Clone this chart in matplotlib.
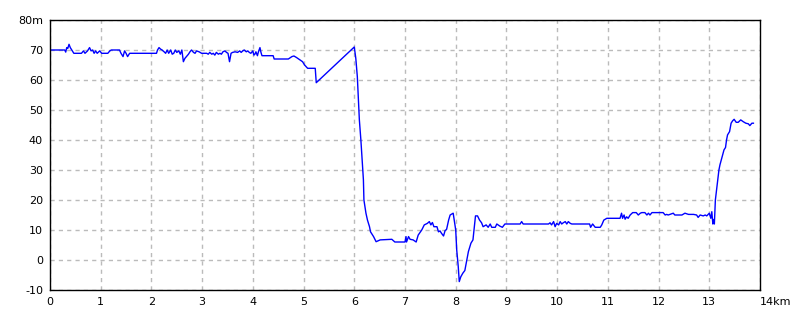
import matplotlib
matplotlib.use("Agg")
import matplotlib.pyplot as plt

# distance (km) / elevation (m)
dist_km = [
    0.00, 0.29, 0.31, 0.33, 0.35, 0.375, 0.40, 0.43, 0.47, 0.62, 0.66, 0.69,
    0.74, 0.78, 0.81, 0.84, 0.87, 0.90, 0.93, 0.98, 1.02, 1.14, 1.18, 1.21,
    1.37, 1.40, 1.44, 1.47, 1.50, 1.53, 1.57, 2.10, 2.12, 2.15, 2.18, 2.21,
    2.25, 2.28, 2.31, 2.34, 2.38, 2.41, 2.44, 2.47, 2.50, 2.54, 2.57, 2.60,
    2.63, 2.66, 2.69, 2.73, 2.76, 2.79, 2.83, 2.86, 2.89, 2.94, 2.99, 3.09,
    3.12, 3.15, 3.19, 3.22, 3.25, 3.28, 3.32, 3.35, 3.38, 3.41, 3.45, 3.48,
    3.51, 3.54, 3.57, 3.60, 3.65, 3.70, 3.74, 3.77, 3.80, 3.83, 3.87, 3.90,
    3.93, 3.96, 4.00, 4.02, 4.04, 4.06, 4.09, 4.11, 4.13, 4.14, 4.16, 4.18,
    4.40, 4.42, 4.70, 4.77, 4.81, 4.86, 4.92, 4.98, 5.02, 5.08, 5.23, 5.25,
    6.00, 6.03, 6.06, 6.08, 6.10, 6.13, 6.16, 6.18, 6.19, 6.23, 6.26, 6.30,
    6.32, 6.38, 6.43, 6.51, 6.74, 6.80, 7.00, 7.02, 7.03, 7.07, 7.10, 7.16,
    7.22, 7.26, 7.33, 7.38, 7.44, 7.48, 7.51, 7.54, 7.57, 7.63, 7.66, 7.69,
    7.72, 7.76, 7.79, 7.82, 7.86, 7.89, 7.95, 7.97, 8.00, 8.02, 8.05, 8.07,
    8.10, 8.14, 8.18, 8.22, 8.25, 8.30, 8.34, 8.36, 8.39, 8.43, 8.47, 8.51,
    8.54, 8.60, 8.64, 8.68, 8.71, 8.78, 8.81, 8.87, 8.92, 8.97, 9.27, 9.30,
    9.33, 9.83, 9.86, 9.89, 9.93, 9.96, 9.99, 10.03, 10.06, 10.09, 10.12, 10.16,
    10.19, 10.22, 10.26, 10.29, 10.64, 10.66, 10.70, 10.75, 10.85, 10.88, 10.92, 10.98,
    11.24, 11.27, 11.29, 11.32, 11.34, 11.37, 11.40, 11.44, 11.49, 11.56, 11.60, 11.64,
    11.67, 11.73, 11.77, 11.80, 11.83, 11.87, 12.09, 12.13, 12.16, 12.19, 12.29, 12.32,
    12.46, 12.52, 12.59, 12.69, 12.75, 12.78, 12.82, 12.88, 12.92, 12.95, 13.00, 13.03,
    13.05, 13.07, 13.08, 13.10, 13.12, 13.15, 13.17, 13.19, 13.21, 13.24, 13.27, 13.29,
    13.32, 13.34, 13.36, 13.40, 13.43, 13.46, 13.49, 13.53, 13.57, 13.62, 13.67, 13.72,
    13.77, 13.80, 13.84, 13.87,
]
elev_m = [
    70.0, 70.0, 69.3, 70.8, 70.5, 71.9, 70.8, 70.0, 68.9, 68.9, 69.7, 68.9,
    69.7, 70.8, 69.7, 70.0, 68.9, 69.7, 68.9, 69.7, 68.9, 68.9, 69.7, 70.0,
    70.0, 68.9, 67.8, 69.7, 68.9, 67.8, 68.9, 68.9, 70.0, 70.8, 70.3, 70.0,
    69.4, 68.9, 70.0, 68.9, 70.0, 68.6, 68.9, 70.0, 69.2, 69.7, 68.6, 70.0,
    66.1, 67.2, 67.8, 68.6, 69.4, 70.0, 69.2, 68.9, 69.7, 69.4, 68.9, 68.9,
    68.6, 69.2, 68.6, 68.9, 68.3, 69.2, 68.6, 68.9, 68.6, 69.4, 69.7, 69.2,
    68.9, 66.1, 68.9, 69.2, 69.4, 69.2, 69.7, 69.2, 69.7, 70.0, 69.4, 69.7,
    69.2, 68.9, 69.7, 68.3, 68.6, 69.4, 68.1, 69.4, 70.3, 70.8, 69.2, 68.1,
    68.1, 67.0, 67.0, 67.8, 68.0, 67.5, 66.8, 66.1, 65.0, 63.9, 63.9, 59.1,
    71.0, 67.2, 61.1, 53.9, 46.7, 40.0, 32.0, 26.7, 20.0, 15.6, 13.3, 11.1,
    9.4, 7.8, 6.1, 6.7, 6.9, 6.0, 6.0, 7.8, 6.0, 7.8, 6.9, 6.7,
    6.0, 8.3, 10.0, 11.7, 12.2, 12.8, 11.7, 12.5, 11.1, 11.1, 9.4, 9.7,
    8.9, 8.0, 9.8, 10.2, 13.3, 15.0, 15.6, 13.3, 10.0, 3.3, -2.2, -7.2,
    -5.6, -4.4, -3.5, 0.0, 2.8, 5.6, 6.7, 10.0, 14.7, 14.7, 13.3, 12.4,
    11.1, 11.7, 10.9, 12.0, 10.9, 10.9, 12.0, 11.3, 10.9, 12.0, 12.0, 12.8,
    12.0, 12.0, 12.4, 11.7, 12.8, 11.1, 12.2, 11.7, 12.8, 12.0, 12.4, 12.8,
    12.0, 12.8, 12.2, 12.0, 12.0, 10.9, 12.0, 10.9, 10.9, 11.7, 13.3, 13.9,
    13.9, 15.6, 13.9, 15.0, 13.6, 14.4, 13.9, 15.0, 15.8, 15.8, 15.0, 15.6,
    15.8, 15.8, 15.0, 15.6, 15.0, 15.8, 15.8, 15.0, 15.2, 15.0, 15.6, 15.0,
    15.0, 15.6, 15.2, 15.2, 15.0, 14.2, 15.0, 14.7, 15.0, 14.7, 15.6, 13.9,
    16.1, 12.0, 13.5, 12.0, 20.0, 24.4, 27.2, 30.0, 31.7, 33.6, 35.6, 36.7,
    37.5, 40.0, 41.7, 42.8, 45.6, 46.4, 46.9, 45.9, 45.9, 46.7, 46.1, 45.6,
    45.4, 44.8, 45.6, 45.6,
]

x_ticks = list(range(15))
x_labels = [str(t) for t in x_ticks[:-1]] + ["14km"]
y_ticks = list(range(-10, 81, 10))
y_labels = [str(t) for t in y_ticks[:-1]] + ["80m"]

fig = plt.figure(figsize=(8, 3.2), dpi=100)
ax = fig.add_axes([50 / 800, 30 / 320, 710 / 800, 270 / 320])

ax.plot(dist_km, elev_m, color="#0000ff", linewidth=1.0)

ax.set_xlim(0, 14)
ax.set_ylim(-10, 80)
ax.set_xticks(x_ticks)
ax.set_xticklabels(x_labels)
ax.set_yticks(y_ticks)
ax.set_yticklabels(y_labels)
ax.get_xticklabels()[-1].set_ha("left")

ax.grid(True, color="#bbbbbb", linestyle=(0, (3, 3)), linewidth=1)
ax.tick_params(length=0, labelsize=8, pad=5)
for s in ax.spines.values():
    s.set_color("black")
    s.set_linewidth(1)

fig.savefig("out.png", dpi=100)
